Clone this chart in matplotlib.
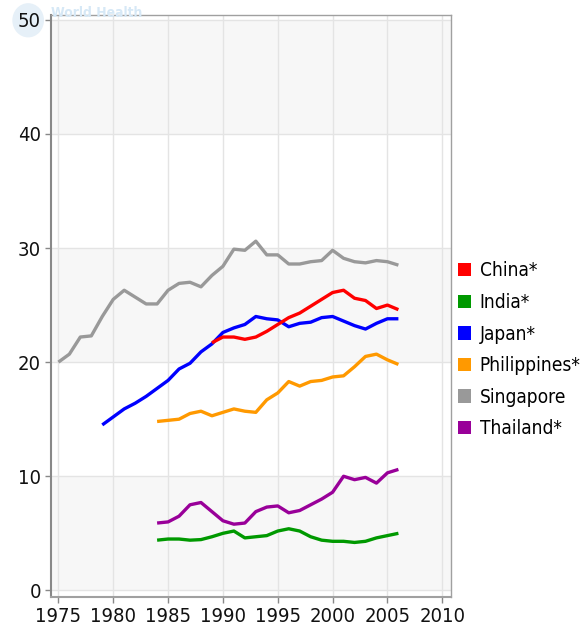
import matplotlib
matplotlib.use("Agg")
import matplotlib.pyplot as plt
from matplotlib.patches import Patch, Circle

china_years = list(range(1989, 2007))
china = [21.7, 22.2, 22.2, 22.0, 22.2, 22.7, 23.3, 23.9, 24.3, 24.9,
         25.5, 26.1, 26.3, 25.6, 25.4, 24.7, 25.0, 24.6]

india_years = list(range(1984, 2007))
india = [4.4, 4.5, 4.5, 4.4, 4.45, 4.7, 5.0, 5.2, 4.6, 4.7, 4.8, 5.2,
         5.4, 5.2, 4.7, 4.4, 4.3, 4.3, 4.2, 4.3, 4.6, 4.8, 5.0]

japan_years = list(range(1979, 2007))
japan = [14.5, 15.2, 15.9, 16.4, 17.0, 17.7, 18.4, 19.4, 19.9, 20.9,
         21.6, 22.6, 23.0, 23.3, 24.0, 23.8, 23.7, 23.1, 23.4, 23.5,
         23.9, 24.0, 23.6, 23.2, 22.9, 23.4, 23.8, 23.8]

phil_years = list(range(1984, 2007))
philippines = [14.8, 14.9, 15.0, 15.5, 15.7, 15.3, 15.6, 15.9, 15.7, 15.6,
               16.7, 17.3, 18.3, 17.9, 18.3, 18.4, 18.7, 18.8, 19.6, 20.5,
               20.7, 20.2, 19.8]

sing_years = list(range(1975, 2007))
singapore = [20.0, 20.7, 22.2, 22.3, 24.0, 25.5, 26.3, 25.7, 25.1, 25.1,
             26.3, 26.9, 27.0, 26.6, 27.6, 28.4, 29.9, 29.8, 30.6, 29.4,
             29.4, 28.6, 28.6, 28.8, 28.9, 29.8, 29.1, 28.8, 28.7, 28.9,
             28.8, 28.5]

thai_years = list(range(1984, 2007))
thailand = [5.9, 6.0, 6.5, 7.5, 7.7, 6.9, 6.1, 5.8, 5.9, 6.9, 7.3, 7.4,
            6.8, 7.0, 7.5, 8.0, 8.6, 10.0, 9.7, 9.9, 9.4, 10.3, 10.6]

labels = ["China*", "India*", "Japan*", "Philippines*", "Singapore", "Thailand*"]
colors = ["#ff0000", "#009900", "#0000ff", "#ff9900", "#999999", "#990099"]

x_ticks = [1975, 1980, 1985, 1990, 1995, 2000, 2005, 2010]
y_ticks = [0, 10, 20, 30, 40, 50]

plt.rcParams['font.family'] = ['DejaVu Sans']
plt.rcParams['font.stretch'] = 'condensed'

fig = plt.figure(figsize=(5.87, 6.34), dpi=100)
ax = fig.add_axes([0.0864, 0.058, 0.682, 0.918])

# alternating bands
for lo in (0, 20, 40):
    ax.axhspan(lo, lo + 10, color="#f7f7f7", zorder=0, lw=0)

for x in x_ticks:
    ax.axvline(x, color="#e4e4e4", lw=1, zorder=1)
for y in y_ticks:
    ax.axhline(y, color="#e4e4e4", lw=1, zorder=1)

series = [(china_years, china), (india_years, india), (japan_years, japan),
          (phil_years, philippines), (sing_years, singapore),
          (thai_years, thailand)]
# singapore / philippines underneath, china on top
order = [4, 3, 1, 5, 2, 0]
for i in order:
    xs, ys = series[i]
    ax.plot(xs, ys, color=colors[i], lw=2.4, solid_capstyle="butt",
            solid_joinstyle="round", zorder=3)

ax.set_xlim(1974.3, 2010.8)
ax.set_ylim(-0.6, 50.4)
ax.set_xticks(x_ticks)
ax.set_yticks(y_ticks)
ax.tick_params(axis="both", length=4, width=1, color="#888888",
               labelsize=14.5, labelcolor="#111111", pad=3)
for s in ax.spines.values():
    s.set_color("#a0a0a0")
    s.set_linewidth(1)
ax.spines["left"].set_color("#888888")
ax.spines["left"].set_linewidth(1.5)
ax.spines["bottom"].set_linewidth(1.5)

handles = [Patch(facecolor=c, edgecolor="none") for c in colors]
ax.legend(handles, labels, loc="upper left", bbox_to_anchor=(0.998, 0.59),
          frameon=False, fontsize=13.7, handlelength=0.7, handleheight=0.7,
          handletextpad=0.45, labelspacing=0.66, borderaxespad=0)

# faint WHO watermark behind the top-left corner
fig.patches.append(Circle((0.048, 0.968), 0.027, transform=fig.transFigure,
                          facecolor="#e6f0f8", edgecolor="none", zorder=-1))
fig.text(0.087, 0.99, "World Health", color="#d6e8f6", fontsize=10,
         fontweight="bold", va="top", ha="left", zorder=2)

fig.savefig("out.png", dpi=100)
